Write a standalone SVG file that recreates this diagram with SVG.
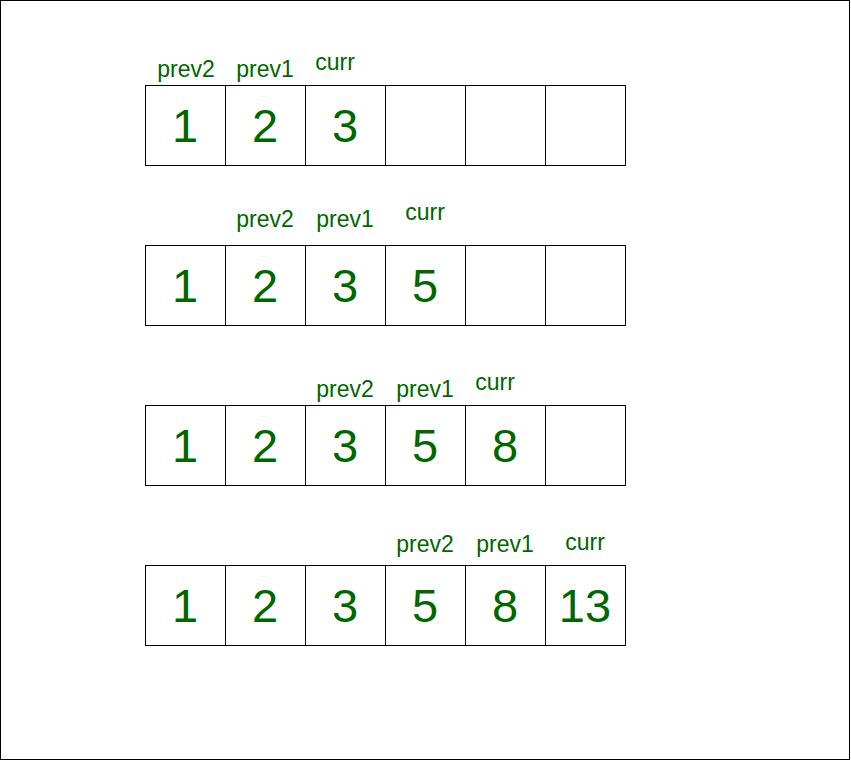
<svg xmlns="http://www.w3.org/2000/svg" width="851" height="761" viewBox="0 0 851 761">
<style>
.cell{fill:#fff;stroke:#000;stroke-width:1}
.num{font-family:"Liberation Sans",Arial,sans-serif;font-size:47px;fill:#006600;text-anchor:middle}
.lbl{font-family:"Liberation Sans",Arial,sans-serif;font-size:23px;fill:#006600;text-anchor:middle}
</style>
<rect x="0.5" y="0.5" width="849" height="759" fill="#fff" stroke="#000" stroke-width="1"/>
<g id="connectors"/>
<g id="row1">
<rect class="cell" x="145.5" y="85.5" width="80" height="80"/><rect class="cell" x="225.5" y="85.5" width="80" height="80"/><rect class="cell" x="305.5" y="85.5" width="80" height="80"/><rect class="cell" x="385.5" y="85.5" width="80" height="80"/><rect class="cell" x="465.5" y="85.5" width="80" height="80"/><rect class="cell" x="545.5" y="85.5" width="80" height="80"/>
<text class="num" x="185" y="142">1</text><text class="num" x="265" y="142">2</text><text class="num" x="345" y="142">3</text>
<text class="lbl" x="186" y="77">prev2</text><text class="lbl" x="265" y="77">prev1</text><text class="lbl" x="335" y="70">curr</text>
</g>
<g id="row2">
<rect class="cell" x="145.5" y="245.5" width="80" height="80"/><rect class="cell" x="225.5" y="245.5" width="80" height="80"/><rect class="cell" x="305.5" y="245.5" width="80" height="80"/><rect class="cell" x="385.5" y="245.5" width="80" height="80"/><rect class="cell" x="465.5" y="245.5" width="80" height="80"/><rect class="cell" x="545.5" y="245.5" width="80" height="80"/>
<text class="num" x="185" y="302">1</text><text class="num" x="265" y="302">2</text><text class="num" x="345" y="302">3</text><text class="num" x="425" y="302">5</text>
<text class="lbl" x="265" y="227">prev2</text><text class="lbl" x="345" y="227">prev1</text><text class="lbl" x="425" y="220">curr</text>
</g>
<g id="row3">
<rect class="cell" x="145.5" y="405.5" width="80" height="80"/><rect class="cell" x="225.5" y="405.5" width="80" height="80"/><rect class="cell" x="305.5" y="405.5" width="80" height="80"/><rect class="cell" x="385.5" y="405.5" width="80" height="80"/><rect class="cell" x="465.5" y="405.5" width="80" height="80"/><rect class="cell" x="545.5" y="405.5" width="80" height="80"/>
<text class="num" x="185" y="462">1</text><text class="num" x="265" y="462">2</text><text class="num" x="345" y="462">3</text><text class="num" x="425" y="462">5</text><text class="num" x="505" y="462">8</text>
<text class="lbl" x="345" y="397">prev2</text><text class="lbl" x="425" y="397">prev1</text><text class="lbl" x="495" y="390">curr</text>
</g>
<g id="row4">
<rect class="cell" x="145.5" y="565.5" width="80" height="80"/><rect class="cell" x="225.5" y="565.5" width="80" height="80"/><rect class="cell" x="305.5" y="565.5" width="80" height="80"/><rect class="cell" x="385.5" y="565.5" width="80" height="80"/><rect class="cell" x="465.5" y="565.5" width="80" height="80"/><rect class="cell" x="545.5" y="565.5" width="80" height="80"/>
<text class="num" x="185" y="622">1</text><text class="num" x="265" y="622">2</text><text class="num" x="345" y="622">3</text><text class="num" x="425" y="622">5</text><text class="num" x="505" y="622">8</text><text class="num" x="585" y="622">13</text>
<text class="lbl" x="425" y="552">prev2</text><text class="lbl" x="505" y="552">prev1</text><text class="lbl" x="585" y="550">curr</text>
</g>
</svg>
